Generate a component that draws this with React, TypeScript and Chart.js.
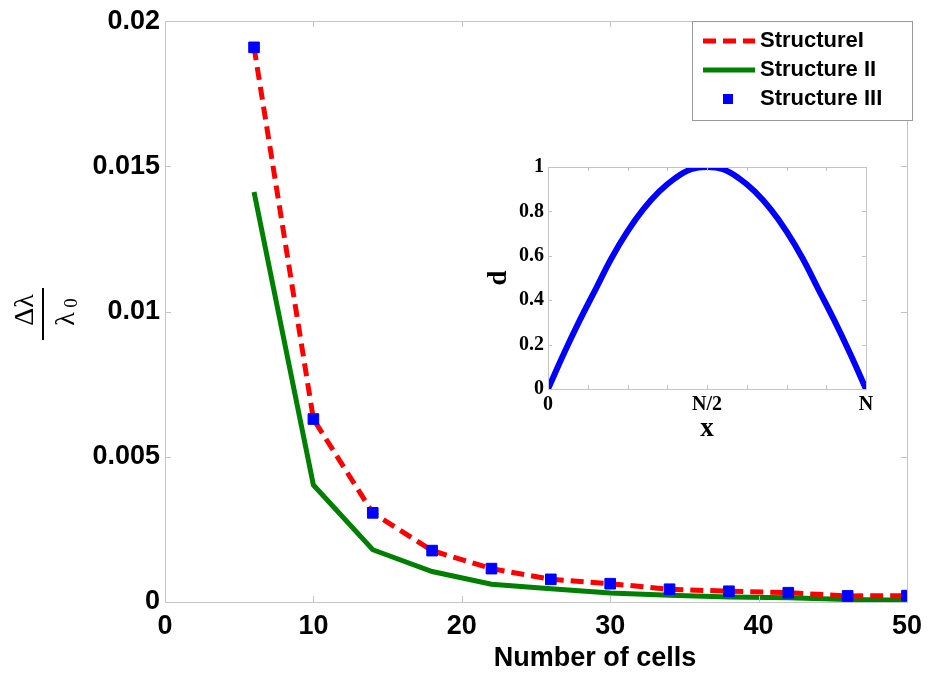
import React, { useEffect, useRef } from 'react';
import { Chart, registerables } from 'chart.js';
Chart.register(...registerables);

// ---------- main chart data ----------
const cells = [6, 10, 14, 18, 22, 26, 30, 34, 38, 42, 46, 50];
const structureI = [0.0191, 0.0063, 0.00307, 0.00177, 0.00115, 0.00078, 0.00063, 0.00044, 0.00037, 0.00032, 0.00021, 0.00022];
const structureII = [0.01412, 0.00403, 0.0018, 0.00105, 0.00061, 0.00046, 0.00031, 0.00023, 0.00017, 0.00015, 0.00009, 0.00006];
const structureIII = [0.0191, 0.0063, 0.00307, 0.00177, 0.00115, 0.00078, 0.00063, 0.00044, 0.00037, 0.00032, 0.00021, 0.00022];
const xTickValues = [0, 10, 20, 30, 40, 50];
const xTickLabels = ['0', '10', '20', '30', '40', '50'];
const yTickValues = [0, 0.005, 0.01, 0.015, 0.02];
const yTickLabels = ['0', '0.005', '0.01', '0.015', '0.02'];
const seriesNames = ['StructureI', 'Structure II', 'Structure III'];
const xTitle = 'Number of cells';

// ---------- inset data ----------
const insetX = [0, 0.05, 0.1, 0.15, 0.2, 0.25, 0.3, 0.35, 0.4, 0.45, 0.5, 0.55, 0.6, 0.65, 0.7, 0.75, 0.8, 0.85, 0.9, 0.95, 1];
const insetD = [0, 0.16, 0.31, 0.45, 0.59, 0.71, 0.81, 0.89, 0.95, 0.99, 1, 0.99, 0.95, 0.89, 0.81, 0.71, 0.59, 0.45, 0.31, 0.16, 0];
const insetXTickValues = [0, 0.5, 1];
const insetXTickLabels = ['0', 'N/2', 'N'];
const insetYTickValues = [0, 0.2, 0.4, 0.6, 0.8, 1];
const insetYTickLabels = ['0', '0.2', '0.4', '0.6', '0.8', '1'];
const insetXTitle = 'x';
const insetYTitle = 'd';

const SANS = '"Liberation Sans", Arial, sans-serif';
const SERIF = '"Liberation Serif", "Times New Roman", serif';
const FRAME = '#c4c4c4';

function labelFor(values: number[], labels: string[], v: number) {
  for (let i = 0; i < values.length; i++) {
    if (Math.abs(values[i] - v) < 1e-9) return labels[i];
  }
  return '';
}

const mainDecor = {
  id: 'mainDecor',
  afterDraw(chart: any) {
    const { ctx, chartArea: a, scales } = chart;
    const xs = scales.x;
    const ys = scales.y;
    ctx.save();
    // frame
    ctx.strokeStyle = FRAME;
    ctx.lineWidth = 1;
    ctx.strokeRect(Math.round(a.left) + 0.5, Math.round(a.top) + 0.5, Math.round(a.right - a.left), Math.round(a.bottom - a.top));
    // inward ticks
    ctx.beginPath();
    const tl = 6;
    xTickValues.forEach((v) => {
      const px = Math.round(xs.getPixelForValue(v)) + 0.5;
      ctx.moveTo(px, a.bottom); ctx.lineTo(px, a.bottom - tl);
      ctx.moveTo(px, a.top); ctx.lineTo(px, a.top + tl);
    });
    yTickValues.forEach((v) => {
      const py = Math.round(ys.getPixelForValue(v)) + 0.5;
      ctx.moveTo(a.left, py); ctx.lineTo(a.left + tl, py);
      ctx.moveTo(a.right, py); ctx.lineTo(a.right - tl, py);
    });
    ctx.stroke();

    // x title
    ctx.fillStyle = '#000';
    ctx.font = 'bold 27px ' + SANS;
    ctx.textAlign = 'center';
    ctx.textBaseline = 'middle';
    ctx.fillText(xTitle, 595, 659);

    // y title: fraction Δλ / λ0 rotated
    ctx.save();
    ctx.translate(43, 314);
    ctx.rotate(-Math.PI / 2);
    ctx.fillRect(-26, -1, 52, 2);
    ctx.font = '28px ' + SERIF;
    ctx.textAlign = 'center';
    ctx.textBaseline = 'alphabetic';
    ctx.fillText('Δλ', 4, -10);
    ctx.fillText('λ', -5, 31);
    ctx.font = '19px ' + SERIF;
    ctx.fillText('0', 11, 34);
    ctx.restore();

    // legend
    const lx = 692, ly = 21, lw = 220, lh = 99;
    ctx.fillStyle = '#fff';
    ctx.fillRect(lx, ly, lw, lh);
    ctx.strokeStyle = '#9a9a9a';
    ctx.lineWidth = 1;
    ctx.strokeRect(lx + 0.5, ly + 0.5, lw, lh);
    const rows = [41, 70, 99];
    const ds = chart.data.datasets;
    const order = [1, 2, 0];
    order.forEach((di, r) => {
      const d = ds[di];
      const y = rows[r];
      ctx.save();
      if (d.showLine === false) {
        ctx.fillStyle = d.backgroundColor;
        ctx.fillRect(728 - 5, y - 5, 10, 10);
      } else {
        ctx.strokeStyle = d.borderColor;
        ctx.lineWidth = d.borderWidth;
        ctx.setLineDash(d.borderDash || []);
        ctx.beginPath();
        ctx.moveTo(703, y);
        ctx.lineTo(755, y);
        ctx.stroke();
      }
      ctx.restore();
      ctx.fillStyle = '#000';
      ctx.font = 'bold 22px ' + SANS;
      ctx.textAlign = 'left';
      ctx.textBaseline = 'middle';
      ctx.fillText(seriesNames[r], 760, y);
    });
    ctx.restore();
  },
};

const insetDecor = {
  id: 'insetDecor',
  afterDraw(chart: any) {
    const { ctx, chartArea: a, scales } = chart;
    const xs = scales.x;
    const ys = scales.y;
    ctx.save();
    ctx.strokeStyle = FRAME;
    ctx.lineWidth = 1;
    ctx.strokeRect(Math.round(a.left) + 0.5, Math.round(a.top) + 0.5, Math.round(a.right - a.left), Math.round(a.bottom - a.top));
    ctx.beginPath();
    const tl = 4;
    for (let k = 0; k <= 8; k++) {
      const px = Math.round(xs.getPixelForValue(k / 8)) + 0.5;
      ctx.moveTo(px, a.bottom); ctx.lineTo(px, a.bottom - tl);
      ctx.moveTo(px, a.top); ctx.lineTo(px, a.top + tl);
    }
    insetYTickValues.forEach((v) => {
      const py = Math.round(ys.getPixelForValue(v)) + 0.5;
      ctx.moveTo(a.left, py); ctx.lineTo(a.left + tl, py);
      ctx.moveTo(a.right, py); ctx.lineTo(a.right - tl, py);
    });
    ctx.stroke();
    ctx.fillStyle = '#000';
    ctx.font = 'bold 27px ' + SERIF;
    ctx.textAlign = 'center';
    ctx.textBaseline = 'middle';
    ctx.fillText(insetXTitle, (a.left + a.right) / 2, 279);
    ctx.save();
    ctx.translate(29, (a.top + a.bottom) / 2);
    ctx.rotate(-Math.PI / 2);
    ctx.fillText(insetYTitle, 0, 0);
    ctx.restore();
    ctx.restore();
  },
};

export default function App() {
  const mainRef = useRef<HTMLCanvasElement>(null);
  const insetRef = useRef<HTMLCanvasElement>(null);

  useEffect(() => {
    const main = new Chart(mainRef.current as HTMLCanvasElement, {
      type: 'line',
      data: {
        datasets: [
          {
            label: seriesNames[2],
            data: cells.map((c, i) => ({ x: c, y: structureIII[i] })),
            showLine: false,
            pointStyle: 'rect',
            pointRadius: 7.5,
            pointBackgroundColor: '#0000ff',
            pointBorderColor: '#0000ff',
            backgroundColor: '#0000ff',
            borderColor: '#0000ff',
            order: 0,
          },
          {
            label: seriesNames[0],
            data: cells.map((c, i) => ({ x: c, y: structureI[i] })),
            borderColor: '#ff0000',
            borderWidth: 5,
            borderDash: [13, 7],
            pointRadius: 0,
            fill: false,
            tension: 0,
            order: 1,
          },
          {
            label: seriesNames[1],
            data: cells.map((c, i) => ({ x: c, y: structureII[i] })),
            borderColor: '#008000',
            borderWidth: 5,
            pointRadius: 0,
            fill: false,
            tension: 0,
            order: 2,
          },
        ] as any,
      },
      options: {
        animation: false,
        responsive: false,
        maintainAspectRatio: false,
        events: [],
        layout: { padding: { top: 19, right: 20, left: 0, bottom: 0 } },
        plugins: { legend: { display: false }, tooltip: { enabled: false } },
        scales: {
          x: {
            type: 'linear',
            min: 0,
            max: 50,
            grid: { display: false, drawTicks: false },
            border: { display: false },
            ticks: {
              stepSize: 10,
              maxRotation: 0,
              padding: 8,
              color: '#000',
              font: { family: SANS, size: 27, weight: 'bold' },
              callback: (v: any) => labelFor(xTickValues, xTickLabels, Number(v)),
            },
            afterFit: (s: any) => { s.height = 76; },
          },
          y: {
            type: 'linear',
            min: 0,
            max: 0.02,
            grid: { display: false, drawTicks: false },
            border: { display: false },
            ticks: {
              stepSize: 0.005,
              padding: 5,
              color: '#000',
              font: { family: SANS, size: 27, weight: 'bold' },
              callback: (v: any) => labelFor(yTickValues, yTickLabels, Number(v)),
            },
            afterFit: (s: any) => { s.width = 165; },
          },
        },
      } as any,
      plugins: [mainDecor],
    });

    const inset = new Chart(insetRef.current as HTMLCanvasElement, {
      type: 'line',
      data: {
        datasets: [
          {
            label: 'd',
            data: insetX.map((x, i) => ({ x, y: insetD[i] })),
            borderColor: '#0000ff',
            borderWidth: 6,
            pointRadius: 0,
            fill: false,
            tension: 0.4,
          },
        ] as any,
      },
      options: {
        animation: false,
        responsive: false,
        maintainAspectRatio: false,
        events: [],
        layout: { padding: { top: 17, right: 24, left: 0, bottom: 0 } },
        plugins: { legend: { display: false }, tooltip: { enabled: false } },
        scales: {
          x: {
            type: 'linear',
            min: 0,
            max: 1,
            grid: { display: false, drawTicks: false },
            border: { display: false },
            ticks: {
              stepSize: 0.5,
              maxRotation: 0,
              padding: 4,
              color: '#000',
              font: { family: SERIF, size: 20, weight: 'bold' },
              callback: (v: any) => labelFor(insetXTickValues, insetXTickLabels, Number(v)),
            },
            afterFit: (s: any) => { s.height = 61; },
          },
          y: {
            type: 'linear',
            min: 0,
            max: 1,
            grid: { display: false, drawTicks: false },
            border: { display: false },
            ticks: {
              stepSize: 0.2,
              padding: 4,
              color: '#000',
              font: { family: SERIF, size: 20, weight: 'bold' },
              callback: (v: any) => labelFor(insetYTickValues, insetYTickLabels, Number(v)),
            },
            afterFit: (s: any) => { s.width = 78; },
          },
        },
      } as any,
      plugins: [insetDecor],
    });

    return () => {
      main.destroy();
      inset.destroy();
    };
  }, []);

  return (
    <div style={{ position: 'absolute', left: 0, top: 0, width: 930, height: 678, background: '#fff' }}>
      <canvas ref={mainRef} width={930} height={678} style={{ position: 'absolute', left: 0, top: 0, width: 930, height: 678 }} />
      <canvas ref={insetRef} width={420} height={300} style={{ position: 'absolute', left: 470, top: 150, width: 420, height: 300 }} />
    </div>
  );
}
